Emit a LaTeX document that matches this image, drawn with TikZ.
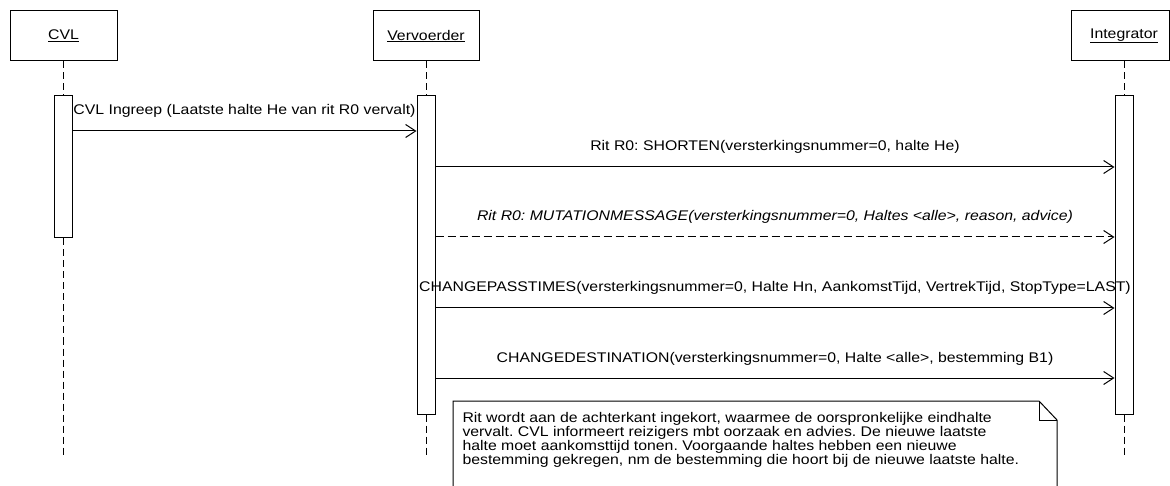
\documentclass[tikz,border=0pt]{standalone}
\usepackage{fontspec}
\setmainfont{Liberation Sans}[FakeStretch=1.13]
\usetikzlibrary{arrows.meta}
\frenchspacing

\begin{document}
\begin{tikzpicture}[x=1pt,y=-1pt,line width=1pt,font=\fontsize{14}{13.8}\selectfont,
    obj/.style={draw,minimum height=50pt,inner sep=0pt},
    bar/.style={draw,fill=white,minimum width=18pt,inner sep=0pt},
    life/.style={dash pattern=on 7pt off 4pt},
    msg/.style={-{Straight Barb[length=10pt,width=13pt]}},
    ret/.style={msg,dash pattern=on 8pt off 4pt},
    lbl/.style={anchor=base,yshift=16pt}]
    \useasboundingbox (0,0) rectangle (1170,486);
    \node[obj,minimum width=107pt] (cvl) at (63.5,36) {\underline{CVL}};
    \node[obj,minimum width=106pt] (vv) at (426,36) {\underline{Vervoerder}};
    \node[obj,minimum width=98pt] (intg) at (1120,36) {\hspace{8pt}\underline{Integrator}};
    \node[bar,minimum height=142pt] (cvlbar) at (63,167) {};
    \node[bar,minimum height=318pt] (vvbar) at (426,255) {};
    \node[bar,minimum height=318pt] (intbar) at (1124,255) {};
    \draw[life] (cvl.south -| cvlbar) -- (cvlbar.north); \draw[life] (cvlbar.south) -- (cvlbar |- 0,457);
    \draw[life] (vv.south -| vvbar) -- (vvbar.north); \draw[life] (vvbar.south) -- (vvbar |- 0,457);
    \draw[life] (intg.south -| intbar) -- (intbar.north); \draw[life] (intbar.south) -- (intbar |- 0,457);
    \draw[msg] (cvlbar.east |- 0,131) -- node[lbl] {CVL Ingreep (Laatste halte He van rit R0 vervalt)} (vvbar.west |- 0,131);
    \draw[msg] (vvbar.east |- 0,167) -- node[lbl] {Rit R0: SHORTEN(versterkingsnummer=0, halte He)} (intbar.west |- 0,167);
    \draw[ret] (vvbar.east |- 0,237) -- node[lbl] {\itshape Rit R0: MUTATIONMESSAGE(versterkingsnummer=0, Haltes <alle>, reason, advice)} (intbar.west |- 0,237);
    \draw[msg] (vvbar.east |- 0,308) -- node[lbl] {CHANGEPASSTIMES(versterkingsnummer=0, Halte Hn, AankomstTijd, VertrekTijd, StopType=LAST)} (intbar.west |- 0,308);
    \draw[msg] (vvbar.east |- 0,378) -- node[lbl] {CHANGEDESTINATION(versterkingsnummer=0, Halte <alle>, bestemming B1)} (intbar.west |- 0,378);
    \draw (453,490) -- (453,401) -- (1039,401) -- (1057,420) -- (1057,490);
    \draw (1039,401) -- (1039,420) -- (1057,420);
    \node[anchor=north west,align=left,inner sep=0pt] (note) at (462,412) {Rit wordt aan de achterkant ingekort, waarmee de oorspronkelijke eindhalte\\vervalt. CVL informeert reizigers mbt oorzaak en advies. De nieuwe laatste\\halte moet aankomsttijd tonen. Voorgaande haltes hebben een nieuwe\\bestemming gekregen, nm de bestemming die hoort bij de nieuwe laatste halte.};
\end{tikzpicture}
\end{document}
